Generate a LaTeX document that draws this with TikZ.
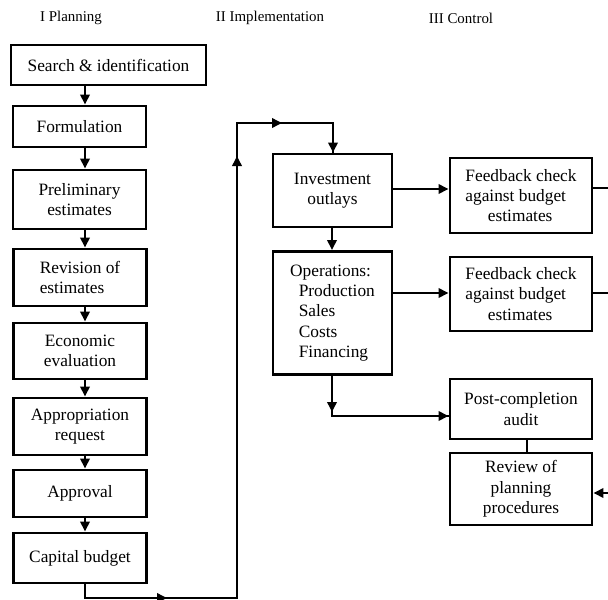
\documentclass[tikz,border=0pt]{standalone}
\usepackage{fontspec}
\setmainfont{Liberation Serif}
\usetikzlibrary{arrows.meta}
\begin{document}
\begin{tikzpicture}[x=0.75pt,y=-0.75pt,
  box/.style={draw,line width=2.2pt,inner sep=2pt,font=\fontsize{13}{15.2}\selectfont,align=center},
  sz/.style 2 args={minimum width=#1*0.75pt,minimum height=#2*0.75pt},
  conn/.style={line width=1.8pt},
  arr/.style={conn,-{Triangle[length=7.5pt,width=7pt]}},
  hdr/.style={font=\fontsize{11.2}{13}\selectfont}]
\useasboundingbox (0,0) rectangle (608,600);

% headers
\node[hdr] (h1) at (71,18) {I Planning};
\node[hdr] (h2) at (270,18) {II Implementation};
\node[hdr] (h3) at (461,18) {III Control};

% column I
\node[box,sz={195}{40}] (search) at (108.5,65) {Search \& identification};
\node[box,sz={133}{41}] (formul) at (79.5,126.5) {Formulation};
\node[box,sz={133}{59}] (prelim) at (79.5,199.5) {Preliminary\\estimates};
\node[box,sz={133}{57},align=left] (revis) at (80,277.5) {Revision of\\estimates};
\node[box,sz={133}{56}] (econ) at (80,351) {Economic\\evaluation};
\node[box,sz={133}{57}] (approp) at (80,426.5) {Appropriation\\request};
\node[box,sz={133}{47}] (approv) at (80,493.5) {Approval};
\node[box,sz={133}{50}] (capital) at (80,558) {Capital budget};

% column II
\node[box,sz={119}{73}] (inv) at (332.5,190.5) {Investment\\outlays};
\node[box,sz={119}{123},align=left] (ops) at (332.5,313) {Operations:\\\hspace*{0.5em}Production\\\hspace*{0.5em}Sales\\\hspace*{0.5em}Costs\\\hspace*{0.5em}Financing};

% column III
\node[box,sz={142}{75},align=left] (fb1) at (521,195.5) {Feedback check\\against budget\\\hspace*{1.3em}estimates};
\node[box,sz={142}{74},align=left] (fb2) at (521,294) {Feedback check\\against budget\\\hspace*{1.3em}estimates};
\node[box,sz={142}{60}] (post) at (521,409) {Post-completion\\audit};
\node[box,sz={142}{72}] (review) at (521,489) {Review of\\planning\\procedures};

% helper coordinates
\coordinate (ax) at (85,0);
\coordinate (b1) at (85,598);
\coordinate (b2) at (237,598);
\coordinate (b3) at (237,123);
\coordinate (b4) at (333,123);
\coordinate (m1) at (167,598);
\coordinate (m2) at (237,156);
\coordinate (m3) at (282,123);
\coordinate (y1) at (0,189);
\coordinate (y2) at (0,293);
\coordinate (c1) at (332,416);
\coordinate (m4) at (332,412);
\coordinate (e1) at (608,188);
\coordinate (e2) at (608,293);
\coordinate (e3) at (608,493);

% column I arrows
\draw[arr] (ax |- search.south) -- (ax |- formul.north);
\draw[arr] (ax |- formul.south) -- (ax |- prelim.north);
\draw[arr] (ax |- prelim.south) -- (ax |- revis.north);
\draw[arr] (ax |- revis.south) -- (ax |- econ.north);
\draw[arr] (ax |- econ.south) -- (ax |- approp.north);
\draw[arr] (ax |- approp.south) -- (ax |- approv.north);
\draw[arr] (ax |- approv.south) -- (ax |- capital.north);

% long connector from capital budget to investment outlays
\draw[conn] (ax |- capital.south) -- (b1) -- (b2) -- (b3) -- (b4) -- (b4 |- inv.north);
\draw[arr] (b1) -- (m1);
\draw[arr] (b2) -- (m2);
\draw[arr] (b3) -- (m3);
\draw[arr] (b4) -- (b4 |- inv.north);

% column II connectors
\draw[arr] (inv.south -| c1) -- (ops.north -| c1);
\draw[arr] (inv.east |- y1) -- (fb1.west |- y1);
\draw[arr] (ops.east |- y2) -- (fb2.west |- y2);
\draw[conn] (ops.south -| c1) -- (c1) -- (post.west |- c1);
\draw[arr] (ops.south -| c1) -- (m4);
\draw[arr] (c1) -- (post.west |- c1);

% column III connectors
\draw[conn] (fb1.east |- e1) -- (e1);
\draw[conn] (fb2.east |- e2) -- (e2);
\draw[conn] ([xshift=4.5pt]post.south) -- ([xshift=4.5pt]review.north);
\draw[arr] (e3) -- (review.east |- e3);
\end{tikzpicture}
\end{document}
